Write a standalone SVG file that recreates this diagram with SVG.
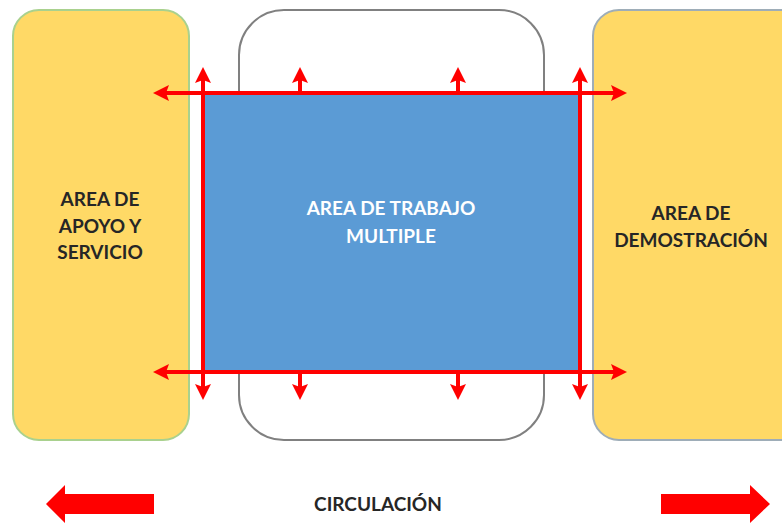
<svg xmlns="http://www.w3.org/2000/svg" width="782" height="527" viewBox="0 0 782 527">
<style>
.lbl{font-family:Lato,"Open Sans","Liberation Sans",sans-serif;font-weight:bold;font-size:19px;text-anchor:middle;fill:#262626}
.wht{fill:#ffffff}
.red{stroke:#ff0000;stroke-width:4;fill:none}
</style>
<defs>
<marker id="ah" viewBox="0 0 16 16" refX="3" refY="8" markerWidth="16" markerHeight="16" markerUnits="userSpaceOnUse" orient="auto-start-reverse">
<path d="M0,0 L16,8 L0,16 L3,8 Z" fill="#ff0000"/>
</marker>
</defs>
<rect width="782" height="527" fill="#ffffff"/>
<g id="apoyo">
<rect x="13" y="10" width="176" height="430" rx="26" fill="#ffd966" stroke="#a9d18e" stroke-width="2"/>
<text class="lbl" x="100" y="206">AREA DE</text>
<text class="lbl" x="100" y="233">APOYO Y</text>
<text class="lbl" x="100" y="259">SERVICIO</text>
</g>
<g id="demostracion">
<rect x="593" y="10" width="220" height="430" rx="26" fill="#ffd966" stroke="#9eadb8" stroke-width="2"/>
<text class="lbl" x="691" y="220">AREA DE</text>
<text class="lbl" x="691" y="247">DEMOSTRACIÓN</text>
</g>
<g id="zona">
<rect x="239" y="10" width="305" height="430" rx="45" fill="#ffffff" stroke="#808080" stroke-width="2"/>
</g>
<g id="trabajo">
<rect x="205" y="95" width="373" height="277" fill="#5b9bd5"/>
<text class="lbl wht" x="391" y="215">AREA DE TRABAJO</text>
<text class="lbl wht" x="391" y="243">MULTIPLE</text>
</g>
<g id="connectors">
<line class="red" x1="166" y1="93" x2="614" y2="93" marker-start="url(#ah)" marker-end="url(#ah)"/>
<line class="red" x1="166" y1="372" x2="614" y2="372" marker-start="url(#ah)" marker-end="url(#ah)"/>
<line class="red" x1="203" y1="80" x2="203" y2="387" marker-start="url(#ah)" marker-end="url(#ah)"/>
<line class="red" x1="580" y1="80" x2="580" y2="387" marker-start="url(#ah)" marker-end="url(#ah)"/>
<line class="red" x1="300" y1="93" x2="300" y2="80" marker-end="url(#ah)"/>
<line class="red" x1="458" y1="93" x2="458" y2="80" marker-end="url(#ah)"/>
<line class="red" x1="300" y1="372" x2="300" y2="387" marker-end="url(#ah)"/>
<line class="red" x1="458" y1="372" x2="458" y2="387" marker-end="url(#ah)"/>
</g>
<g id="circulacion">
<path d="M46,504 L65,485 L65,494 L154,494 L154,514 L65,514 L65,523 Z" fill="#ff0000"/>
<path d="M770,504 L750,485 L750,494 L661,494 L661,514 L750,514 L750,523 Z" fill="#ff0000"/>
<text class="lbl" x="378" y="511">CIRCULACIÓN</text>
</g>
</svg>
